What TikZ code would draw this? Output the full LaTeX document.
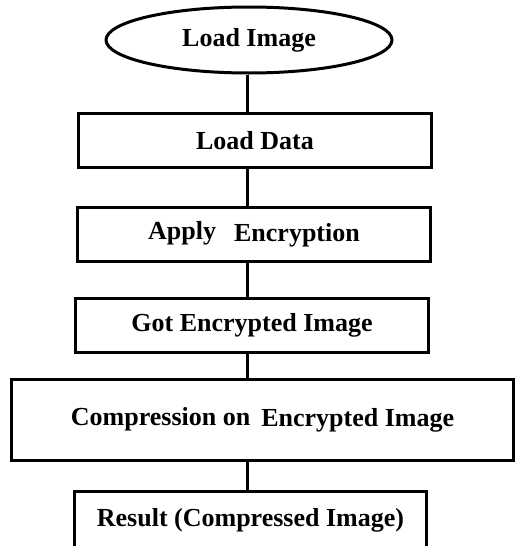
\documentclass[tikz,border=0pt]{standalone}
\usepackage{fontspec}
\setmainfont{Liberation Serif}
\usetikzlibrary{shapes.geometric}
\tikzset{
  flowbox/.style={draw=black, line width=3pt, rectangle, inner sep=0pt, font=\fontsize{26}{30}\selectfont\bfseries},
  flowell/.style={draw=black, line width=3pt, ellipse, inner sep=0pt, font=\fontsize{26}{30}\selectfont\bfseries},
  link/.style={draw=black, line width=3pt}
}
\begin{document}
\begin{tikzpicture}[x=1pt,y=-1pt]
\useasboundingbox (0,0) rectangle (516,546);
\node[flowell, minimum width=286, minimum height=66] (e) at (249,40) {Load Image};
\node[flowbox, minimum width=353, minimum height=54] (b1) at (255,140.5) {Load Data};
\node[flowbox, minimum width=353, minimum height=54] (b2) at (254,234.5) {\raisebox{2pt}{Apply}\hspace{18pt}Encryption};
\node[flowbox, minimum width=353, minimum height=54] (b3) at (252,325.5) {Got Encrypted Image};
\node[flowbox, minimum width=502, minimum height=81] (b4) at (262.5,420) {\raisebox{1pt}{Compression on}\hspace{11pt}Encrypted Image};
\node[flowbox, minimum width=352, minimum height=70, text height=18pt, text depth=17pt] (b5) at (250.5,526) {Result (Compressed Image)};
\coordinate (col) at (247,0);
\draw[link] (e.south -| col) -- (b1.north -| col);
\draw[link] (b1.south -| col) -- (b2.north -| col);
\draw[link] (b2.south -| col) -- (b3.north -| col);
\draw[link] (b3.south -| col) -- (b4.north -| col);
\draw[link] (b4.south -| col) -- (b5.north -| col);
\end{tikzpicture}
\end{document}
